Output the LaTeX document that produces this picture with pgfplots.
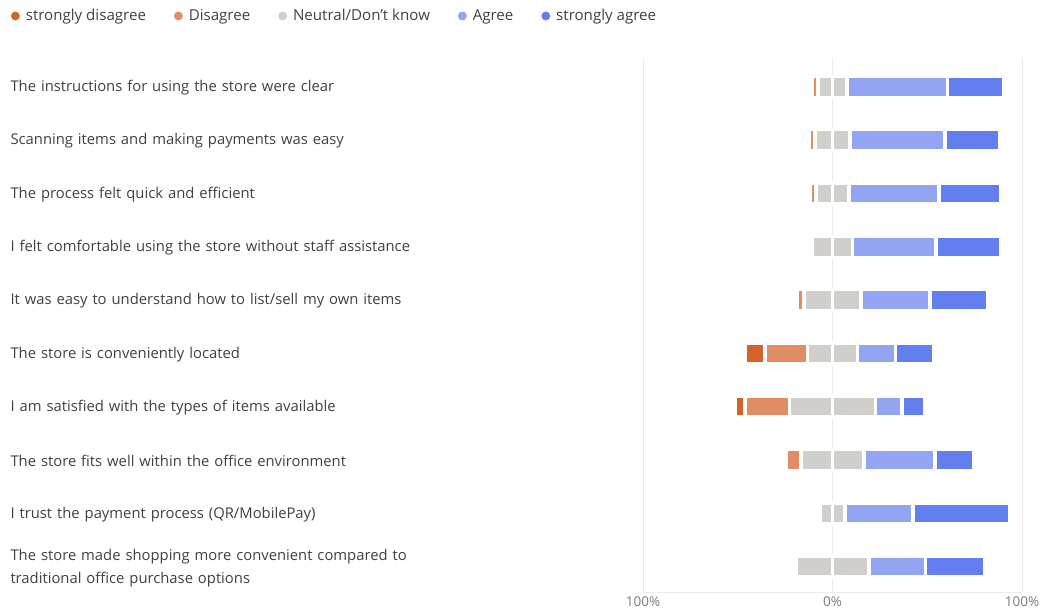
\documentclass[border=0pt]{standalone}
\usepackage{pgfplots}
\usepackage{pgfplotstable}
\pgfplotsset{compat=1.18}
\usepackage{fontspec}
\setmainfont{Open Sans}
\definecolor{sdcol}{HTML}{D4622B}
\definecolor{dcol}{HTML}{E08D65}
\definecolor{ncol}{HTML}{D0CFCC}
\definecolor{acol}{HTML}{93A4F2}
\definecolor{sacol}{HTML}{637EEE}
\definecolor{labcol}{HTML}{404040}
\definecolor{tickcol}{HTML}{7A7A7A}
\definecolor{gridcol}{HTML}{EBEBEB}
\pgfplotsset{legcirc/.style={legend image code/.code={\fill[#1] (0pt,0pt) circle (4.2pt);}}}
\pgfplotstableread{
row N D SD A SA
1 15.5 2.7 0 53.0 29.5
2 18.5 3.0 0 50.0 29.0
3 17.6 2.8 0 47.5 32.5
4 21.0 0 0 44.0 34.2
5 30.0 3.5 0 36.4 30.3
6 26.4 22.3 10.8 20.0 20.0
7 45.2 23.7 5.1 14.0 11.9
8 33.0 8.1 0 37.7 20.5
9 13.2 0 0 35.8 50.9
10 38.5 0 0 29.9 31.4
}\data
\begin{document}
\begin{tikzpicture}
\useasboundingbox (0pt,0pt) rectangle (1046pt,-614pt);
\begin{axis}[
  at={(643pt,-592pt)}, anchor=south west,
  scale only axis, width=379pt, height=534pt,
  xmin=-100, xmax=100, ymin=0.46, ymax=10.475, y dir=reverse,
  xbar, bar width=21pt, bar shift=0pt,
  xtick={-100,0,100}, xticklabels={100\%,0\%,100\%},
  xticklabel style={font=\fontsize{13.5}{15}\selectfont, text=tickcol, yshift=-1pt},
  ytick={1,2,3,4,5,6,7,8,9,10},
  yticklabels={The instructions for using the store were clear,
    Scanning items and making payments was easy,
    The process felt quick and efficient,
    I felt comfortable using the store without staff assistance,
    It was easy to understand how to list/sell my own items,
    The store is conveniently located,
    I am satisfied with the types of items available,
    The store fits well within the office environment,
    I trust the payment process (QR/MobilePay),
    {The store made shopping more convenient compared to\\traditional office purchase options}},
  yticklabel style={anchor=west, xshift=-636pt, yshift=-1pt, text width=560pt, align=left,
    font=\fontsize{14.8}{23}\selectfont, text=labcol},
  xmajorgrids, grid style={draw=gridcol, line width=1pt},
  axis x line*=bottom, axis y line*=left,
  x axis line style={draw=gridcol, line width=1pt},
  y axis line style={draw=none},
  major tick length=0pt, tick style={draw=none},
  legend columns=5,
  legend style={at={(-1.668,1.0787)}, anchor=west, draw=none, fill=none,
    font=\fontsize{15.1}{16}\selectfont, text=labcol, inner sep=0pt,
    /tikz/every odd column/.append style={column sep=4pt},
    /tikz/every even column/.append style={column sep=26pt}},
  legend cell align=left,
]
\addlegendimage{legcirc=sdcol}\addlegendentry{strongly disagree}
\addlegendimage{legcirc=dcol}\addlegendentry{Disagree}
\addlegendimage{legcirc=ncol}\addlegendentry{Neutral/Don't know}
\addlegendimage{legcirc=acol}\addlegendentry{Agree}
\addlegendimage{legcirc=sacol}\addlegendentry{strongly agree}
% left side (overlaid, outermost first)
\addplot[fill=sdcol, draw=white, line width=3.5pt, forget plot]
  table[y=row, x expr={-(\thisrow{N}/2+\thisrow{D}+\thisrow{SD})}] {\data};
\addplot[fill=dcol, draw=white, line width=3.5pt, forget plot]
  table[y=row, x expr={-(\thisrow{N}/2+\thisrow{D})}] {\data};
\addplot[fill=ncol, draw=white, line width=3.5pt, forget plot]
  table[y=row, x expr={-(\thisrow{N}/2)}] {\data};
% right side
\addplot[fill=sacol, draw=white, line width=3.5pt, forget plot]
  table[y=row, x expr={\thisrow{N}/2+\thisrow{A}+\thisrow{SA}}] {\data};
\addplot[fill=acol, draw=white, line width=3.5pt, forget plot]
  table[y=row, x expr={\thisrow{N}/2+\thisrow{A}}] {\data};
\addplot[fill=ncol, draw=white, line width=3.5pt, forget plot]
  table[y=row, x expr={\thisrow{N}/2}] {\data};
\end{axis}
\end{tikzpicture}
\end{document}
